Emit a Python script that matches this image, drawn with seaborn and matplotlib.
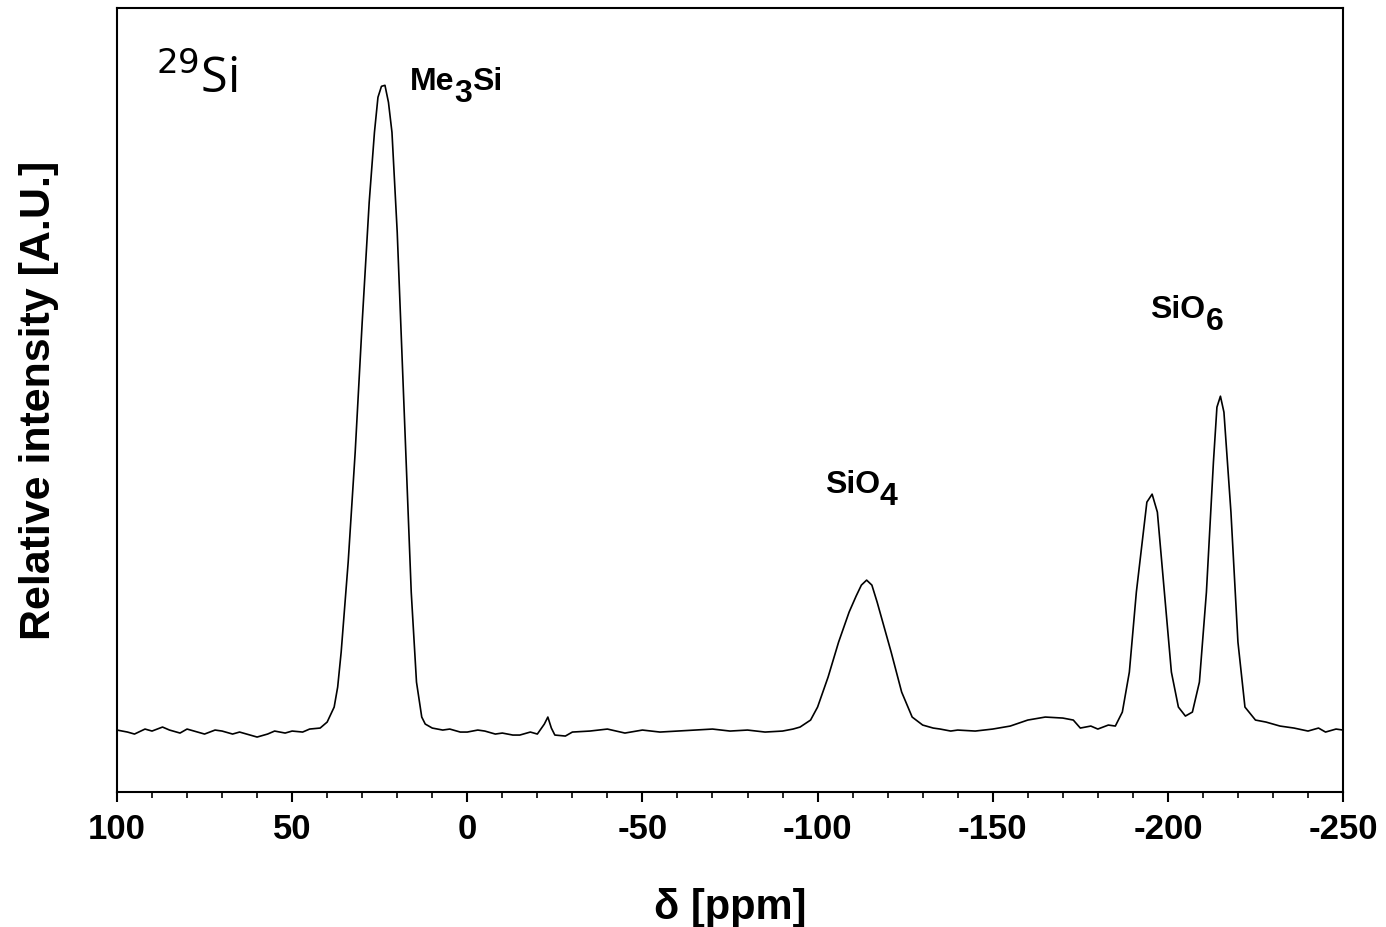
import numpy as np
import pandas as pd
import matplotlib
matplotlib.use("Agg")
import matplotlib.pyplot as plt
import seaborn as sns
from matplotlib.ticker import MultipleLocator

# spectrum (ppm, relative intensity)
ppm = [100, 97, 95, 92, 90, 87, 85, 82, 80, 77, 75, 72, 70, 67, 65, 62, 60, 57, 55, 52, 50,
       47, 45, 42, 40, 38, 37, 36, 34, 32, 30, 28, 26.5, 25.5, 24.5, 23.5, 22.5, 21.5, 20, 18, 16, 14.5, 13, 12, 10,
       7, 5, 2, 0, -3, -5, -8, -10, -13, -15, -18, -20, -22, -23, -24, -25, -28, -30, -35,
       -40, -45, -50, -55, -60, -65, -70, -75, -80, -85, -90, -93, -95, -98, -100, -103,
       -106, -109, -111, -112.5, -114, -115.5, -117, -119, -121, -124, -127, -130, -133, -135, -138, -140,
       -145, -150, -155, -160, -165, -170, -173, -175, -178, -180, -183, -185, -187, -189,
       -191, -193, -194, -195.5, -197, -199, -201, -203, -205, -207, -209, -211, -213,
       -214, -215, -216, -218, -220, -222, -225, -228, -232, -236, -240, -243, -245, -248, -250]
intensity = [62, 60, 58, 63, 61, 65, 62, 59, 63, 60, 58, 62, 61, 58, 60, 57, 55, 58, 61, 59, 61,
             60, 63, 64, 70, 85, 105, 140, 230, 340, 470, 590, 660, 695, 706, 707, 690, 660, 560, 380, 200, 110, 75, 68, 64,
             62, 63, 60, 60, 62, 61, 58, 59, 57, 57, 60, 58, 68, 75, 64, 57, 56, 60, 61,
             63, 59, 62, 60, 61, 62, 63, 61, 62, 60, 61, 63, 65, 72, 85, 115,
             150, 180, 196, 207, 212, 207, 190, 165, 140, 100, 75, 67, 64, 63, 61, 62,
             61, 63, 66, 72, 75, 74, 72, 64, 66, 63, 67, 66, 80, 120,
             200, 260, 290, 298, 280, 200, 120, 85, 76, 80, 110, 200, 330,
             385, 396, 380, 280, 150, 85, 72, 70, 66, 64, 61, 64, 60, 63, 62]

# peak labels: (main text, subscript, trailing text, ppm, intensity)
peak_labels = [("Me", "3", "Si", 16.5, 710),
               ("SiO", "4", "", -102, 307),
               ("SiO", "6", "", -195, 482)]

df = pd.DataFrame({"ppm": ppm, "intensity": intensity})

sns.set_style("ticks")
plt.rcParams["font.family"] = ["Liberation Sans", "DejaVu Sans"]
plt.rcParams["axes.unicode_minus"] = False
plt.rcParams["text.color"] = "black"
plt.rcParams["axes.labelcolor"] = "black"
plt.rcParams["xtick.color"] = "black"
plt.rcParams["axes.edgecolor"] = "black"

fig = plt.figure(figsize=(13.86, 9.27), dpi=100)
ax = fig.add_axes([0.0844, 0.1456, 0.8846, 0.8454])
sns.lineplot(data=df, x="ppm", y="intensity", color="black", linewidth=1.2, ax=ax)

ax.set_xlim(100, -250)
ax.set_ylim(0, 784)
ax.xaxis.set_major_locator(MultipleLocator(50))
ax.xaxis.set_minor_locator(MultipleLocator(10))
ax.set_yticks([])
ax.tick_params(axis="x", which="major", direction="out", length=7, width=1.5, labelsize=25, pad=8)
ax.tick_params(axis="x", which="minor", direction="out", length=4, width=1.2)
for lab in ax.get_xticklabels():
    lab.set_fontweight("bold")
for s in ax.spines.values():
    s.set_visible(True)
    s.set_linewidth(1.5)

ax.set_xlabel("δ [ppm]", fontsize=30, fontweight="bold", labelpad=30)
ax.set_ylabel("Relative intensity [A.U.]", fontsize=31, fontweight="bold", labelpad=42)

ax.text(89, 712, "$^{29}$Si", fontsize=35, ha="left", va="center",
        family=["Open Sans", "DejaVu Sans"], math_fontfamily="dejavusans")

for main, sub, tail, x, y in peak_labels:
    t = ax.text(x, y, main, fontsize=23, fontweight="bold", ha="left", va="center")
    s = ax.annotate(sub, xy=(1, 0.1), xycoords=t, fontsize=23, fontweight="bold",
                    ha="left", va="center")
    if tail:
        ax.annotate(tail, xy=(1, 0.9), xycoords=s, fontsize=23, fontweight="bold",
                    ha="left", va="center")

fig.savefig("out.png", dpi=100)
